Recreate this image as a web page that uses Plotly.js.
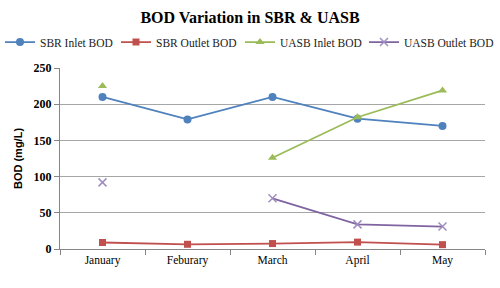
<!DOCTYPE html>
<html><head><meta charset="utf-8">
<script src="https://cdn.plot.ly/plotly-3.0.1.min.js"></script>
<style>body{margin:0;background:#fff}#c{width:500px;height:288px}</style>
</head><body><div id="c"></div>
<script>
var months = ["January", "Feburary", "March", "April", "May"];
var sbrInlet = [210, 179, 210, 180, 170];
var sbrOutlet = [9, 6.5, 7.5, 9.5, 6];
var uasbInlet = [225, null, 126, 182, 219];
var uasbOutlet = [92, null, 70, 34, 31];
var seriesNames = ["SBR Inlet BOD", "SBR Outlet BOD", "UASB Inlet BOD", "UASB Outlet BOD"];
var yTicks = [0, 50, 100, 150, 200, 250];

function tr(y, name, color, sym, size, leg) {
  return {x: months, y: y, name: name, type: 'scatter', mode: 'lines+markers',
    connectgaps: false, legend: leg,
    line: {color: color, width: 1.8},
    marker: {symbol: sym, size: size, color: color, line: {color: color, width: sym === 'x-thin' ? 1.5 : 0}}};
}
var data = [
  tr(sbrInlet, seriesNames[0], '#4F81BD', 'circle', 8, 'legend'),
  tr(sbrOutlet, seriesNames[1], '#C0504D', 'square', 7, 'legend2'),
  tr(uasbInlet, seriesNames[2], '#9BBB59', 'triangle-up', 8, 'legend3'),
  tr(uasbOutlet, seriesNames[3], '#8064A2', 'x-thin', 8, 'legend4')
];
data[3].marker.color = '#9F8DC0';
data[3].marker.line.color = '#9F8DC0';

function leg(x) {
  return {orientation: 'h', x: x, xanchor: 'left', xref: 'container', y: 0.854, yanchor: 'middle', yref: 'container',
    font: {family: 'Liberation Serif', size: 11.5, color: '#222'}, itemwidth: 30, bgcolor: 'rgba(0,0,0,0)',
    itemclick: false};
}

var layout = {
  width: 500, height: 288,
  margin: {l: 60, r: 15, t: 68, b: 39},
  paper_bgcolor: '#fff', plot_bgcolor: '#fff',
  title: {text: '<b>BOD Variation in SBR &amp; UASB</b>', font: {family: 'Liberation Serif', size: 16, color: '#000'},
    x: 0.5, xanchor: 'center', y: 0.94, yanchor: 'middle', yref: 'container'},
  showlegend: true,
  legend: leg(0.0),
  legend2: leg(0.232),
  legend3: leg(0.48),
  legend4: leg(0.728),
  xaxis: {type: 'category', range: [-0.5, 4.5], showgrid: false, showline: true, linecolor: '#868686', linewidth: 1,
    ticks: 'outside', tickson: 'boundaries', ticklen: 5, tickcolor: '#868686',
    tickfont: {family: 'Liberation Serif', size: 11.5, color: '#000'}, zeroline: false},
  yaxis: {range: [0, 250], tickvals: yTicks, ticktext: yTicks.map(function(v){return '<b>' + v + '</b>';}),
    showgrid: true, gridcolor: '#A6A6A6', gridwidth: 1, showline: true, linecolor: '#868686', linewidth: 1,
    ticks: 'outside', ticklen: 5, tickcolor: '#868686', zeroline: false,
    tickfont: {family: 'Liberation Serif', size: 12, color: '#000'},
    title: {text: '<b>BOD (mg/L)</b>', font: {family: 'Liberation Sans', size: 11, color: '#000'}, standoff: 8}}
};
Plotly.newPlot('c', data, layout, {displayModeBar: false, staticPlot: true});
</script></body></html>
